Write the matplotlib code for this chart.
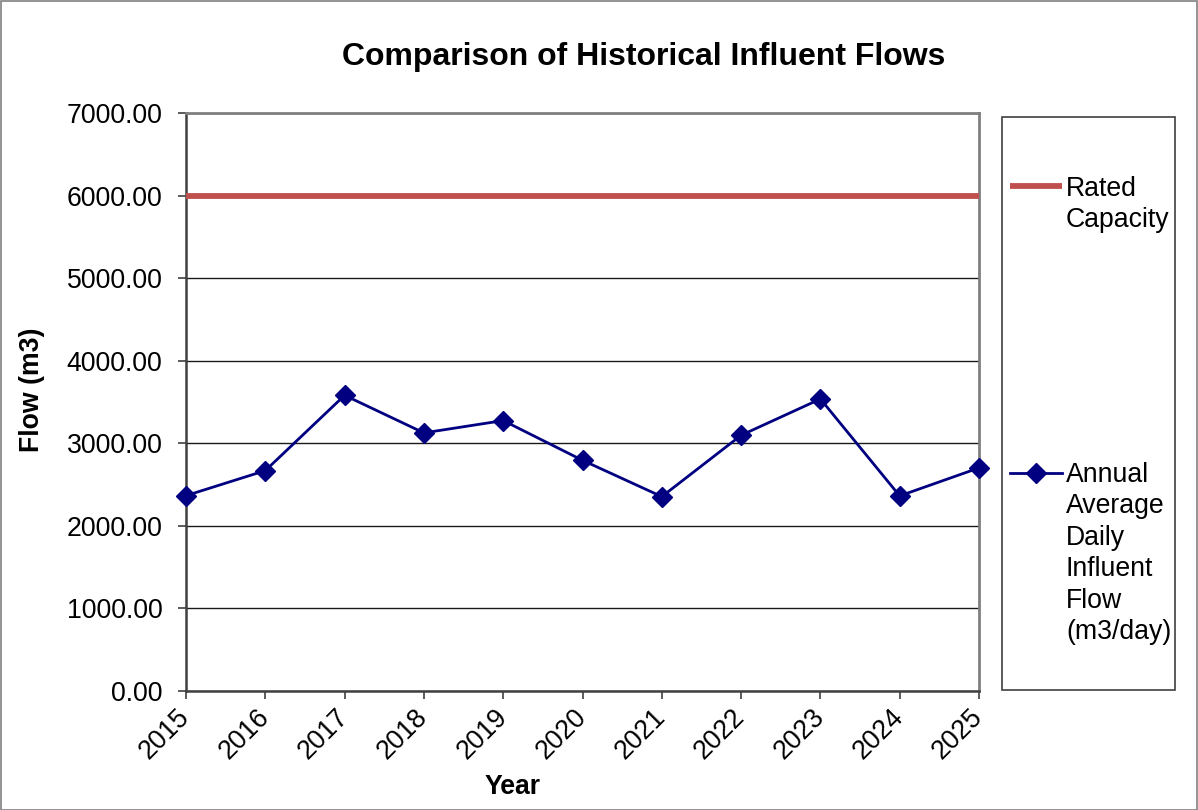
import matplotlib
matplotlib.use("Agg")
import matplotlib.pyplot as plt
from matplotlib.patches import Rectangle
from matplotlib.lines import Line2D

years = ["2015", "2016", "2017", "2018", "2019", "2020", "2021", "2022", "2023", "2024", "2025"]
influent_flow = [2366, 2669, 3581, 3126, 3275, 2794, 2354, 3097, 3537, 2363, 2702]
rated_capacity = [6000] * len(years)
y_ticks = [0, 1000, 2000, 3000, 4000, 5000, 6000, 7000]

title = "Comparison of Historical Influent Flows"
x_label = "Year"
y_label = "Flow (m3)"
label_rated = "Rated\nCapacity"
label_flow = "Annual\nAverage\nDaily\nInfluent\nFlow\n(m3/day)"

plt.rcParams['font.family'] = ['Liberation Sans', 'DejaVu Sans']

FS = 19.2
W, H = 1198, 810
fig = plt.figure(figsize=(W / 100, H / 100), dpi=100)

ax = fig.add_axes([186 / W, 1 - 691 / H, (979 - 186) / W, (691 - 113) / H])
x = list(range(len(years)))

ax.plot(x, rated_capacity, color="#C0504D", lw=4.2, solid_capstyle="butt", zorder=3)
ax.plot(x, influent_flow, color="#000080", lw=2.0, marker="D", ms=10, zorder=4, clip_on=False)

ax.set_xlim(0, len(years) - 1)
ax.set_ylim(0, 7000)
ax.set_yticks(y_ticks)
ax.set_yticklabels([f"{v:.2f}" for v in y_ticks])
ax.set_xticks(x)
ax.set_xticklabels(years, rotation=45, ha="right", va="center", rotation_mode="anchor")
ax.tick_params(axis="y", labelsize=FS, length=6, width=1.2, pad=11, color="#404040")
ax.tick_params(axis="x", labelsize=FS, length=6, width=1.2, pad=10, color="#404040")
ax.grid(axis="y", color="#1a1a1a", lw=1.0)
ax.set_axisbelow(True)
for s in ["left", "bottom"]:
    ax.spines[s].set_color("#404040")
    ax.spines[s].set_linewidth(1.8)
for s in ["top", "right"]:
    ax.spines[s].set_color("#808080")
    ax.spines[s].set_linewidth(2.0)

fig.text(644 / W, 1 - 57 / H, title, ha="center", va="center", fontsize=23, fontweight="bold")
fig.text(513 / W, 1 - 787 / H, x_label, ha="center", va="center", fontsize=FS, fontweight="bold")
fig.text(32 / W, 1 - 390 / H, y_label, ha="center", va="center", fontsize=FS, fontweight="bold", rotation=90)

# legend frame
fig.add_artist(Rectangle((1002 / W, 1 - 690 / H), (1175 - 1002) / W, (690 - 116.5) / H,
                         transform=fig.transFigure, fill=False, edgecolor="#404040", lw=1.2))
# legend keys
fig.add_artist(Line2D([1010 / W, 1062 / W], [1 - 186 / H] * 2, transform=fig.transFigure,
                      color="#C0504D", lw=4.2, solid_capstyle="butt"))
fig.add_artist(Line2D([1010 / W, 1062 / W], [1 - 473 / H] * 2, transform=fig.transFigure,
                      color="#000080", lw=2.0))
fig.add_artist(Line2D([1036 / W], [1 - 473 / H], transform=fig.transFigure,
                      color="#000080", marker="D", ms=10, lw=0))
fig.text(1066 / W, 1 - 175.5 / H, label_rated, ha="left", va="top", fontsize=FS, linespacing=1.27)
fig.text(1066 / W, 1 - 462 / H, label_flow, ha="left", va="top", fontsize=FS, linespacing=1.27)

# outer chart border
fig.add_artist(Rectangle((0.5 / W, 0.5 / H), (W - 1.5) / W, (H - 1.5) / H, transform=fig.transFigure,
                         fill=False, edgecolor="#808080", lw=1.2))

fig.savefig("out.png", dpi=100)
